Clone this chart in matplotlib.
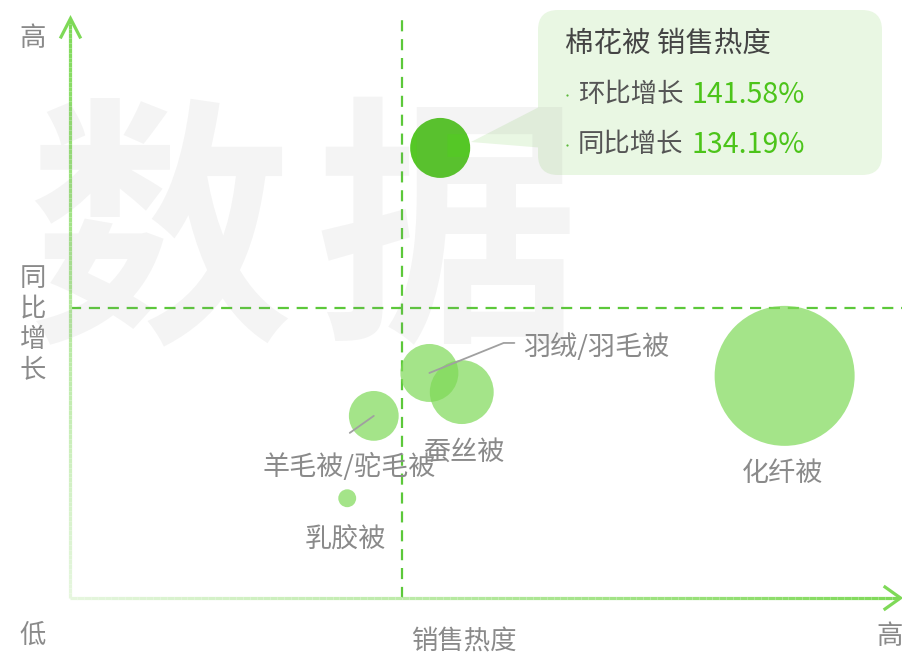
import numpy as np
import matplotlib.pyplot as plt
from matplotlib.collections import LineCollection
from matplotlib.patches import FancyBboxPatch, Polygon
from matplotlib.colors import to_rgb

plt.rcParams['font.family'] = ['Noto Sans CJK SC', 'DejaVu Sans']

# data
names = ['棉花被', '羽绒/羽毛被', '蚕丝被', '羊毛被/驼毛被', '乳胶被', '化纤被']
sales_heat = [44.6, 43.3, 47.2, 36.6, 33.4, 86.1]      # x: 销售热度
yoy_growth = [77.6, 38.8, 35.5, 31.4, 17.2, 38.3]      # y: 同比增长
share = [9.0, 8.4, 10.2, 6.2, 0.8, 49.0]               # bubble size
avg_heat = 40
avg_growth = 50
highlight = '棉花被'
tip_mom = '141.58%'
tip_yoy = '134.19%'

GREEN = '#7ed957'
DARK = '#4cc41a'
GRAY = '#8a8a8a'

W, H = 902, 655
fig = plt.figure(figsize=(W / 100, H / 100), dpi=100)

# main plot area (px 70..900 x, 18..598 y)
ax = fig.add_axes([70 / W, 57 / H, 830 / W, 580 / H])
ax.set_xlim(0, 100)
ax.set_ylim(0, 100)
ax.axis('off')

ax.axvline(avg_heat, color='#5cc83a', lw=1.6, ls=(0, (5, 3.5)), zorder=1)
ax.axhline(avg_growth, xmin=0, xmax=1.003, color='#5cc83a', lw=1.6,
           ls=(0, (5, 3.5)), zorder=1, clip_on=False)

sizes = [207.36 * v for v in share]
colors = [DARK if n == highlight else GREEN for n in names]
alphas = [0.95 if n == highlight else 0.7 for n in names]
for x, y, s, c, a in zip(sales_heat, yoy_growth, sizes, colors, alphas):
    ax.scatter(x, y, s=s, color=c, alpha=a, edgecolors='none', zorder=2, clip_on=False)

# labels (offsets in px)
k = 0.72
offsets = {
    '羽绒/羽毛被': (94, 26, 'left'),
    '蚕丝被': (2, -60, 'center'),
    '羊毛被/驼毛被': (-25, -51, 'center'),
    '乳胶被': (-2, -41, 'center'),
    '化纤被': (-2, -98, 'center'),
}
for n, x, y in zip(names, sales_heat, yoy_growth):
    if n not in offsets:
        continue
    dx, dy, ha = offsets[n]
    ax.annotate(n, (x, y), xytext=(dx * k, dy * k), textcoords='offset points',
                ha=ha, va='center', fontsize=19.5, color=GRAY, zorder=4)

i = names.index('羽绒/羽毛被')
ax.annotate('', (sales_heat[i], yoy_growth[i]), xytext=(85 * k, 30 * k),
            textcoords='offset points',
            arrowprops=dict(arrowstyle='-', color='#a0a0a0', lw=1.3, shrinkA=0, shrinkB=0,
                            connectionstyle='angle,angleA=0,angleB=22,rad=0'), zorder=3)
i = names.index('羊毛被/驼毛被')
ax.annotate('', (sales_heat[i], yoy_growth[i]), xytext=(-24 * k, -17 * k),
            textcoords='offset points',
            arrowprops=dict(arrowstyle='-', color='#a0a0a0', lw=1.3, shrinkA=0, shrinkB=0),
            zorder=3)

# overlay in pixel coordinates for axes arrows and tooltip
ov = fig.add_axes([0, 0, 1, 1], zorder=3)
ov.set_xlim(0, W)
ov.set_ylim(H, 0)
ov.axis('off')


def grad_line(p0, p1, c0, c1, n=120):
    t = np.linspace(0, 1, n + 1)
    xs = p0[0] + (p1[0] - p0[0]) * t
    ys = p0[1] + (p1[1] - p0[1]) * t
    segs = [[(xs[j], ys[j]), (xs[j + 1], ys[j + 1])] for j in range(n)]
    a, b = np.array(to_rgb(c0)), np.array(to_rgb(c1))
    cols = [a + (b - a) * (j + 0.5) / n for j in range(n)]
    ov.add_collection(LineCollection(segs, colors=cols, linewidths=2.3, capstyle='butt'))


grad_line((70, 598), (899, 598), '#e6f6df', GREEN)
grad_line((70, 598), (70, 19), '#e6f6df', GREEN)
ov.plot([61, 70.5, 80], [37, 18.5, 37], color=GREEN, lw=2.3, solid_joinstyle='miter')
ov.plot([885, 900.5, 885], [587, 598, 609], color=GREEN, lw=2.3, solid_joinstyle='miter')

# tooltip
TIP = '#e9f7e3'
ov.add_patch(Polygon([(471, 142), (545, 104), (545, 148)], closed=True,
                     facecolor=TIP, edgecolor='none'))
ov.add_patch(FancyBboxPatch((538, 10), 344, 165, boxstyle='round,pad=0,rounding_size=20',
                            facecolor=TIP, edgecolor='none'))
ov.text(565, 44, highlight + ' 销售热度', fontsize=20.5, color='#444444', ha='left', va='center')
for yy, lab, val in [(95, '环比增长', tip_mom), (145, '同比增长', tip_yoy)]:
    ov.plot([567], [yy], marker='o', ms=1.6, color='#5cb83a', mec='none')
    ov.text(578, yy, lab, fontsize=19, color='#555555', ha='left', va='center')
    ov.text(692, yy, val, fontsize=20.5, color=DARK, ha='left', va='center')

# axis labels
fig.text(33 / W, 1 - 39 / H, '高', fontsize=19, color=GRAY, ha='center', va='center')
fig.text(33 / W, 1 - 324 / H, '同\n比\n增\n长', fontsize=19, color=GRAY,
         ha='center', va='center', linespacing=1.15)
fig.text(33 / W, 1 - 635 / H, '低', fontsize=19, color=GRAY, ha='center', va='center')
fig.text(464 / W, 1 - 642 / H, '销售热度', fontsize=19, color=GRAY, ha='center', va='center')
fig.text(890 / W, 1 - 636 / H, '高', fontsize=19, color=GRAY, ha='center', va='center')

# watermark
for cx, ch in [(160, '数'), (447, '据')]:
    fig.text(cx / W, 1 - 244 / H, ch, fontsize=190, fontweight='bold', color='#888888',
             alpha=0.09, ha='center', va='center', zorder=5)

fig.savefig('out.png', dpi=100)
